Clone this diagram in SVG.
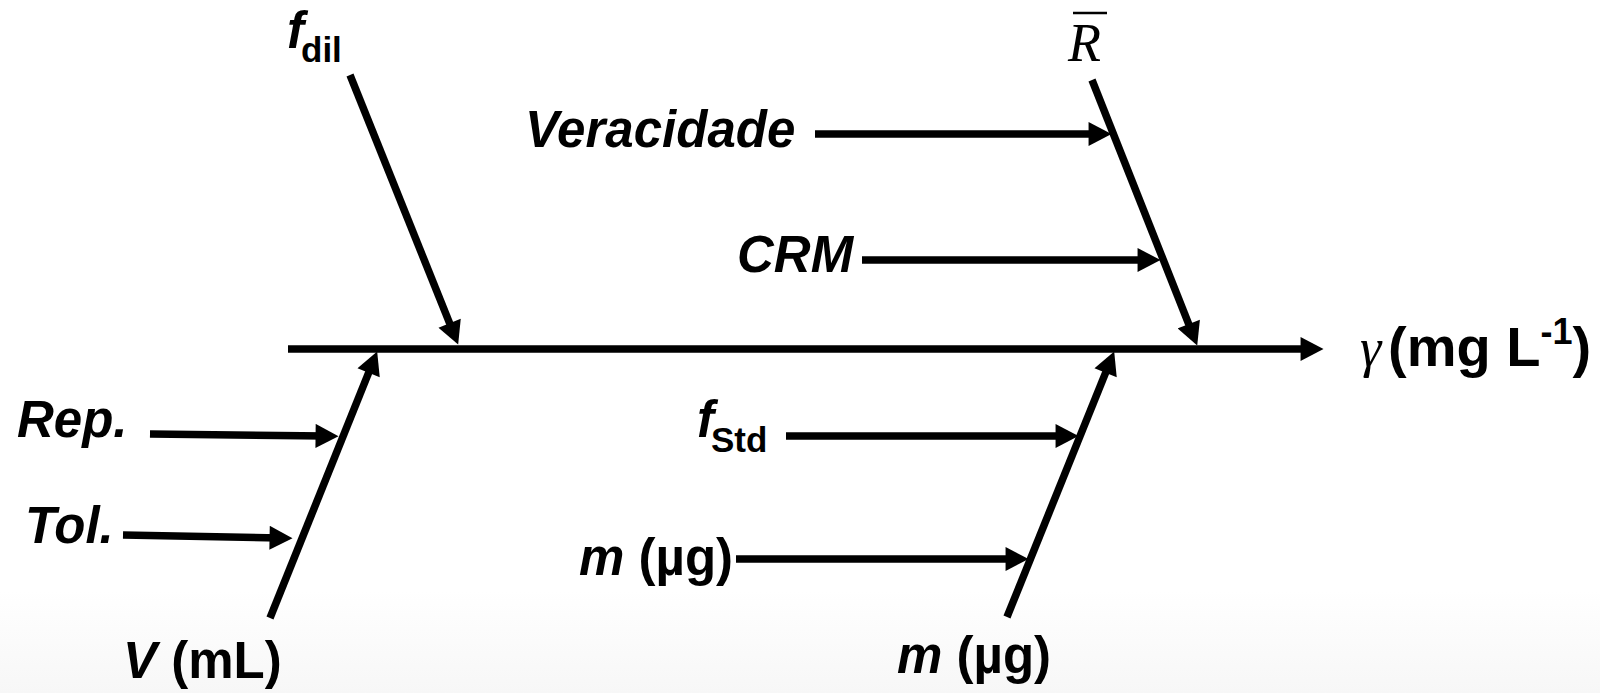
<svg xmlns="http://www.w3.org/2000/svg" width="1600" height="693" viewBox="0 0 1600 693">
<style>
.lbl{font-family:"Liberation Sans",Arial,sans-serif;font-weight:bold;font-size:51px;fill:#000}
.it{font-style:italic}
.sub{font-family:"Liberation Sans",Arial,sans-serif;font-weight:bold;font-size:35px;fill:#000}
.ser{font-family:"Liberation Serif","Times New Roman",serif;font-style:italic;font-size:54px;fill:#000}
.ln{stroke:#000;stroke-width:7.5;fill:none;marker-end:url(#ah)}
</style>
<defs>
<marker id="ah" markerUnits="userSpaceOnUse" markerWidth="24" markerHeight="24" viewBox="0 0 22 23" refX="10" refY="11.5" orient="auto">
<path d="M0,0 L22,11.5 L0,23 Z" fill="#000"/>
</marker>
<linearGradient id="bg" x1="0" y1="0" x2="0" y2="1">
<stop offset="0" stop-color="#ffffff"/>
<stop offset="1" stop-color="#f7f7f7"/>
</linearGradient>
</defs>
<rect width="1600" height="693" fill="#fff"/>
<rect y="590" width="1600" height="103" fill="url(#bg)"/>
<g id="connectors">
<path class="ln" d="M288,349 L1311,349"/>
<path class="ln" d="M350,75 L453.5,332.9"/>
<path class="ln" d="M1092,80 L1192.6,333.8"/>
<path class="ln" d="M270,618 L372.5,363.1"/>
<path class="ln" d="M1007,617 L1109.5,363.1"/>
<path class="ln" d="M815,134 L1099,134"/>
<path class="ln" d="M862,260 L1148,260"/>
<path class="ln" d="M150,434 L326,436"/>
<path class="ln" d="M123,535 L280,538"/>
<path class="ln" d="M786,436 L1066,436"/>
<path class="ln" d="M736,559 L1016,559"/>
</g>
<g id="node-fdil">
<text class="lbl it" x="287" y="48">f</text>
<text class="sub" x="301" y="62">dil</text>
</g>
<g id="node-veracidade"><text class="lbl it" x="525" y="147">Veracidade</text></g>
<g id="node-crm"><text class="lbl it" x="737" y="272">CRM</text></g>
<g id="node-rbar">
<text class="ser" x="1068" y="61">R</text>
<line x1="1073" y1="13" x2="1107" y2="13" stroke="#000" stroke-width="2.5"/>
</g>
<g id="node-gamma">
<text class="ser" x="1360" y="366" font-size="58">γ</text>
<text class="lbl" x="1388" y="366" font-size="56" style="font-size:56px">(mg L<tspan style="font-size:36px" dy="-22">-1</tspan><tspan dy="22">)</tspan></text>
</g>
<g id="node-rep"><text class="lbl it" x="17" y="437">Rep.</text></g>
<g id="node-tol"><text class="lbl it" x="25" y="543">Tol.</text></g>
<g id="node-V"><text class="lbl" x="123" y="678"><tspan class="it">V</tspan> (mL)</text></g>
<g id="node-fstd">
<text class="lbl it" x="697" y="437">f</text>
<text class="sub" x="711" y="452">Std</text>
</g>
<g id="node-m1"><text class="lbl" x="579" y="575"><tspan class="it">m</tspan> (µg)</text></g>
<g id="node-m2"><text class="lbl" x="897" y="673"><tspan class="it">m</tspan> (µg)</text></g>
</svg>
